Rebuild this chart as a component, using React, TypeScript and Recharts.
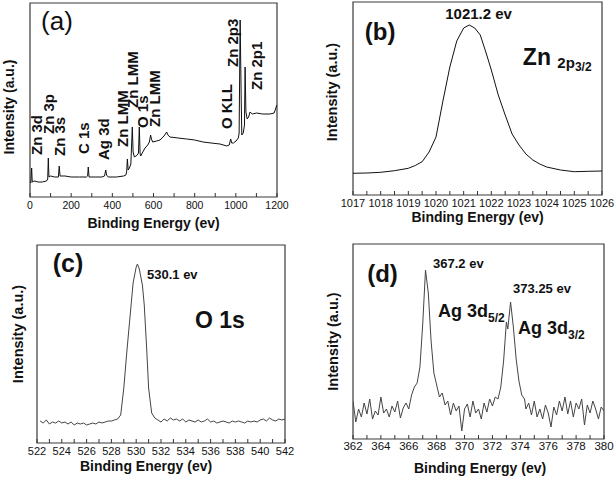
import { LineChart, Line, XAxis, YAxis, ReferenceArea, ReferenceDot } from "recharts"

const W = 616
const H = 481
const FONT = "'Liberation Sans', Arial, Helvetica, sans-serif"

// (a) survey scan: [binding energy, intensity]
const surveyPoints = [
  [0, 15], [4, 14], [8, 29], [11, 15], [20, 16], [40, 15], [60, 15], [80, 16], [86, 18], [89, 39],
  [92, 20], [100, 21], [120, 20], [138, 20], [142, 31], [146, 21], [170, 21], [200, 20], [240, 20],
  [275, 20], [280, 21], [283, 30], [287, 20], [320, 20], [350, 20], [362, 21], [368, 27], [372, 22],
  [380, 20], [420, 20], [455, 21], [466, 22], [470, 26], [473, 38], [477, 27], [483, 29], [490, 33],
  [497, 70], [501, 45], [507, 40], [515, 41], [521, 42], [527, 44], [531, 70], [535, 43], [538, 41],
  [548, 45], [559, 49], [572, 52], [580, 55], [586, 62], [590, 58], [596, 55], [615, 56], [632, 57],
  [651, 61], [664, 65], [670, 62], [680, 60], [720, 59], [761, 58], [800, 57], [841, 55], [880, 54],
  [923, 53], [956, 51], [968, 52], [975, 58], [980, 54], [988, 54], [1001, 56], [1012, 59], [1016, 64],
  [1021, 177], [1026, 100], [1029, 62], [1036, 64], [1042, 72], [1045, 130], [1049, 85], [1055, 78],
  [1062, 80], [1069, 85], [1080, 83], [1101, 84], [1130, 83], [1166, 83], [1186, 84], [1193, 88], [1199, 92],
]
const surveyMajor = [0, 200, 400, 600, 800, 1000, 1200]
const surveyTicks = [0, 100, 200, 300, 400, 500, 600, 700, 800, 900, 1000, 1100, 1200]
const surveyNames = ["Zn 3d", "Zn 3p", "Zn 3s", "C 1s", "Ag 3d", "Zn LMM", "Zn LMM", "O 1s", "Zn LMM", "O KLL", "Zn 2p3", "Zn 2p1"]
const surveyNameAt = [
  [32, 42], [89, 63], [146, 41], [262, 43], [360, 37], [450, 50], [497, 89], [549, 69], [607, 70], [956, 68], [983, 130], [1104, 107],
]

// (b) Zn 2p3/2
const znPoints = [
  [1017, 21.7], [1017.5, 22], [1018, 22.7], [1018.5, 24.3], [1019, 26.7], [1019.25, 29.5], [1019.5, 33.3],
  [1019.75, 43], [1020, 58], [1020.25, 94], [1020.5, 128], [1020.75, 154], [1021, 167], [1021.2, 170],
  [1021.4, 167], [1021.6, 160], [1021.8, 143], [1022, 125], [1022.25, 100], [1022.5, 80], [1022.75, 61],
  [1023, 50], [1023.25, 41], [1023.5, 35], [1023.75, 31], [1024, 28], [1024.5, 25], [1025, 23.3],
  [1025.5, 23.7], [1026, 24],
]
const znMajor = [1017, 1018, 1019, 1020, 1021, 1022, 1023, 1024, 1025, 1026]
const znTicks = [1017, 1017.5, 1018, 1018.5, 1019, 1019.5, 1020, 1020.5, 1021, 1021.5, 1022, 1022.5, 1023, 1023.5, 1024, 1024.5, 1025, 1025.5, 1026]

// (c) O 1s
const oPoints = [
  [522.25, 22], [522.5, 20], [522.75, 23], [523, 19], [523.25, 21], [523.5, 20], [523.75, 22], [524, 20],
  [524.25, 21], [524.5, 19], [524.75, 21], [525, 18], [525.25, 20], [525.5, 19], [525.75, 20], [526, 18],
  [526.25, 19], [526.5, 20], [526.75, 19], [527, 21], [527.25, 20], [527.5, 21], [527.75, 22], [528, 22],
  [528.25, 23], [528.5, 24], [528.75, 28], [529, 55], [529.25, 92], [529.5, 126], [529.75, 160], [530, 176],
  [530.1, 179], [530.25, 174], [530.5, 158], [530.65, 138], [530.85, 93], [531, 55], [531.25, 30], [531.5, 25],
  [531.75, 23], [532, 21], [532.25, 24], [532.5, 22], [532.75, 25], [533, 23], [533.25, 24], [533.5, 22],
  [533.75, 24], [534, 21], [534.25, 23], [534.5, 22], [534.75, 21], [535, 23], [535.25, 21], [535.5, 22],
  [535.75, 24], [536, 21], [536.25, 22], [536.5, 20], [536.75, 21], [537, 22], [537.25, 21], [537.5, 20],
  [537.75, 22], [538, 21], [538.25, 22], [538.5, 21], [538.75, 20], [539, 22], [539.25, 21], [539.5, 22],
  [539.75, 21], [540, 23], [540.25, 24], [540.5, 22], [540.75, 25], [541, 23], [541.25, 22], [541.5, 24],
  [541.75, 23], [542, 24],
]
const oMajor = [522, 524, 526, 528, 530, 532, 534, 536, 538, 540, 542]
const oTicks = [522, 523, 524, 525, 526, 527, 528, 529, 530, 531, 532, 533, 534, 535, 536, 537, 538, 539, 540, 541, 542]

// (d) Ag 3d
const agPoints = [
  [362, 38], [362.2, 17], [362.4, 30], [362.6, 22], [362.8, 36], [363, 25], [363.2, 40], [363.4, 20],
  [363.6, 28], [363.8, 24], [364, 42], [364.2, 26], [364.4, 30], [364.6, 22], [364.8, 33], [365, 27],
  [365.2, 38], [365.4, 21], [365.6, 31], [365.8, 36], [366, 30], [366.2, 44], [366.4, 52], [366.6, 56],
  [366.8, 72], [367, 115], [367.2, 169], [367.4, 146], [367.6, 98], [367.8, 66], [368, 54], [368.2, 42],
  [368.4, 46], [368.6, 34], [368.8, 38], [369, 24], [369.2, 36], [369.4, 28], [369.6, 33], [369.8, 8],
  [370, 30], [370.2, 35], [370.4, 22], [370.6, 38], [370.8, 26], [371, 30], [371.2, 20], [371.4, 36],
  [371.6, 27], [371.8, 40], [372, 33], [372.2, 42], [372.4, 40], [372.6, 52], [372.8, 78], [373, 117],
  [373.1, 110], [373.3, 137], [373.5, 112], [373.7, 80], [373.9, 58], [374.1, 44], [374.3, 40], [374.4, 30],
  [374.6, 36], [374.8, 24], [375, 38], [375.2, 22], [375.4, 30], [375.6, 20], [375.8, 34], [376, 26],
  [376.2, 12], [376.4, 32], [376.6, 24], [376.8, 38], [377, 28], [377.2, 42], [377.4, 25], [377.6, 38],
  [377.8, 22], [378, 36], [378.2, 30], [378.4, 40], [378.6, 14], [378.8, 34], [379, 26], [379.2, 38],
  [379.4, 30], [379.6, 20], [379.8, 32], [380, 28],
]
const agMajor = [362, 364, 366, 368, 370, 372, 374, 376, 378, 380]
const agTicks = [362, 363, 364, 365, 366, 367, 368, 369, 370, 371, 372, 373, 374, 375, 376, 377, 378, 379, 380]

const YW = 20
const XH = 20

type Frame = { left: number; top: number; right: number; bottom: number }

type PanelProps = {
  points: number[][]
  xDomain: [number, number]
  yMax: number
  major: number[]
  ticks: number[]
  frame: Frame
  stroke: string
  tickFont: number
  tickMargin: number
  yTitle: { dx: number; dy: number; size: number }
  xTitle: { dx: number; dy: number }
  notes: any[]
}

function Panel(p: PanelProps) {
  const data = p.points.map(([e, v]) => ({ e, v }))
  const f = p.frame
  const margin = { top: f.top, left: f.left - YW, right: W - f.right, bottom: H - f.bottom - XH }
  return (
    <div style={{ position: "absolute", left: 0, top: 0 }}>
      <LineChart width={W} height={H} data={data} margin={margin}>
        <XAxis
          dataKey="e"
          type="number"
          domain={p.xDomain}
          allowDataOverflow
          ticks={p.ticks}
          interval={0}
          height={XH}
          axisLine={false}
          tickLine={{ stroke: "#333" }}
          tickSize={-4}
          tickMargin={p.tickMargin}
          tickFormatter={(v: number) => (p.major.includes(v) ? String(v) : "")}
          tick={{ fontSize: p.tickFont, fill: "#111", fontFamily: FONT }}
          label={(lp: any) => {
            const vb = lp.viewBox
            if (!vb) return null
            return (
              <text
                x={vb.x + vb.width / 2 + p.xTitle.dx}
                y={vb.y + p.xTitle.dy}
                textAnchor="middle"
                fontSize={14}
                fontWeight="bold"
                fontFamily={FONT}
                fill="#111"
              >
                Binding Energy (ev)
              </text>
            )
          }}
        />
        <YAxis
          type="number"
          domain={[0, p.yMax]}
          allowDataOverflow
          width={YW}
          tick={false}
          tickLine={false}
          axisLine={false}
          label={(lp: any) => {
            const vb = lp.viewBox
            if (!vb) return null
            const cx = vb.x + vb.width + p.yTitle.dx
            const cy = vb.y + vb.height / 2 + p.yTitle.dy
            return (
              <text
                x={cx}
                y={cy}
                dy="0.35em"
                transform={`rotate(-90 ${cx} ${cy})`}
                textAnchor="middle"
                fontSize={p.yTitle.size}
                fontWeight="bold"
                fontFamily={FONT}
                fill="#111"
              >
                Intensity (a.u.)
              </text>
            )
          }}
        />
        <ReferenceArea
          x1={p.xDomain[0]}
          x2={p.xDomain[1]}
          y1={0}
          y2={p.yMax}
          fill="none"
          stroke="#3a3a3a"
          strokeWidth={1.2}
          ifOverflow="visible"
        />
        <Line type="linear" dataKey="v" stroke={p.stroke} strokeWidth={1} dot={false} isAnimationActive={false} />
        {p.notes}
      </LineChart>
    </div>
  )
}

// annotation anchored at a data point
function note(key: string, x: number, y: number, draw: (cx: number, cy: number) => any) {
  return (
    <ReferenceDot
      key={key}
      x={x}
      y={y}
      r={0}
      fill="none"
      stroke="none"
      ifOverflow="visible"
      label={(lp: any) => (lp.viewBox ? draw(lp.viewBox.x, lp.viewBox.y) : null)}
    />
  )
}

const bold = { fontFamily: FONT, fontWeight: "bold" as const, fill: "#111" }

const notesA = [
  note("a", 131, 167, (x, y) => (
    <text x={x} y={y} textAnchor="middle" fontSize={26} fontFamily={FONT} fill="#111">(a)</text>
  )),
  ...surveyNames.map((name, i) =>
    note("s" + i, surveyNameAt[i][0], surveyNameAt[i][1], (x, y) => (
      <text x={x} y={y} dy="0.35em" transform={`rotate(-90 ${x} ${y})`} fontSize={15} {...bold}>
        {name}
      </text>
    ))
  ),
]

const notesB = [
  note("b", 1017.98, 155, (x, y) => (
    <text x={x} y={y} textAnchor="middle" fontSize={24} {...bold}>(b)</text>
  )),
  note("pk", 1021.54, 176, (x, y) => (
    <text x={x} y={y} textAnchor="middle" fontSize={15} {...bold}>1021.2 ev</text>
  )),
  note("zn", 1023.14, 130, (x, y) => (
    <text x={x} y={y} fontSize={23} {...bold}>
      Zn <tspan fontSize={15} dy={3}>2p</tspan>
      <tspan fontSize={12} dy={3}>3/2</tspan>
    </text>
  )),
]

const notesC = [
  note("c", 524.5, 171, (x, y) => (
    <text x={x} y={y} textAnchor="middle" fontSize={25} {...bold}>(c)</text>
  )),
  note("pk", 530.87, 164, (x, y) => (
    <text x={x} y={y} fontSize={13} {...bold}>530.1 ev</text>
  )),
  note("o", 534.74, 115, (x, y) => (
    <text x={x} y={y} fontSize={23} {...bold}>O 1s</text>
  )),
]

const notesD = [
  note("d", 364.12, 157, (x, y) => (
    <text x={x} y={y} textAnchor="middle" fontSize={24} {...bold}>(d)</text>
  )),
  note("p1", 367.74, 171, (x, y) => (
    <text x={x} y={y} fontSize={13} {...bold}>367.2 ev</text>
  )),
  note("p2", 373.48, 146, (x, y) => (
    <text x={x} y={y} fontSize={13} {...bold}>373.25 ev</text>
  )),
  note("l1", 368.1, 122, (x, y) => (
    <text x={x} y={y} fontSize={18} {...bold}>
      Ag 3d<tspan fontSize={12} dy={5}>5/2</tspan>
    </text>
  )),
  note("l2", 373.84, 105, (x, y) => (
    <text x={x} y={y} fontSize={18} {...bold}>
      Ag 3d<tspan fontSize={12} dy={5}>3/2</tspan>
    </text>
  )),
]

export default function App() {
  return (
    <div style={{ position: "absolute", left: 0, top: 0, width: W, height: H, background: "#fff", fontFamily: FONT }}>
      <Panel
        points={surveyPoints}
        xDomain={[0, 1200]}
        yMax={194}
        major={surveyMajor}
        ticks={surveyTicks}
        frame={{ left: 30, top: 3, right: 277, bottom: 197 }}
        stroke="#111"
        tickFont={10.5}
        tickMargin={9}
        yTitle={{ dx: -21, dy: 7, size: 14 }}
        xTitle={{ dx: 0, dy: 31 }}
        notes={notesA}
      />
      <Panel
        points={znPoints}
        xDomain={[1017, 1026]}
        yMax={193}
        major={znMajor}
        ticks={znTicks}
        frame={{ left: 353, top: 2, right: 602, bottom: 195 }}
        stroke="#111"
        tickFont={11}
        tickMargin={8}
        yTitle={{ dx: -21, dy: -6.5, size: 14.5 }}
        xTitle={{ dx: 0, dy: 27 }}
        notes={notesB}
      />
      <Panel
        points={oPoints}
        xDomain={[522, 542]}
        yMax={198}
        major={oMajor}
        ticks={oTicks}
        frame={{ left: 37, top: 245, right: 285, bottom: 443 }}
        stroke="#444"
        tickFont={11}
        tickMargin={8}
        yTitle={{ dx: -19, dy: -10, size: 14.5 }}
        xTitle={{ dx: -15, dy: 28 }}
        notes={notesC}
      />
      <Panel
        points={agPoints}
        xDomain={[362, 380]}
        yMax={195}
        major={agMajor}
        ticks={agTicks}
        frame={{ left: 353, top: 244, right: 604, bottom: 439 }}
        stroke="#444"
        tickFont={11.5}
        tickMargin={6.5}
        yTitle={{ dx: -20, dy: 0, size: 14.5 }}
        xTitle={{ dx: 1.5, dy: 33.5 }}
        notes={notesD}
      />
    </div>
  )
}
